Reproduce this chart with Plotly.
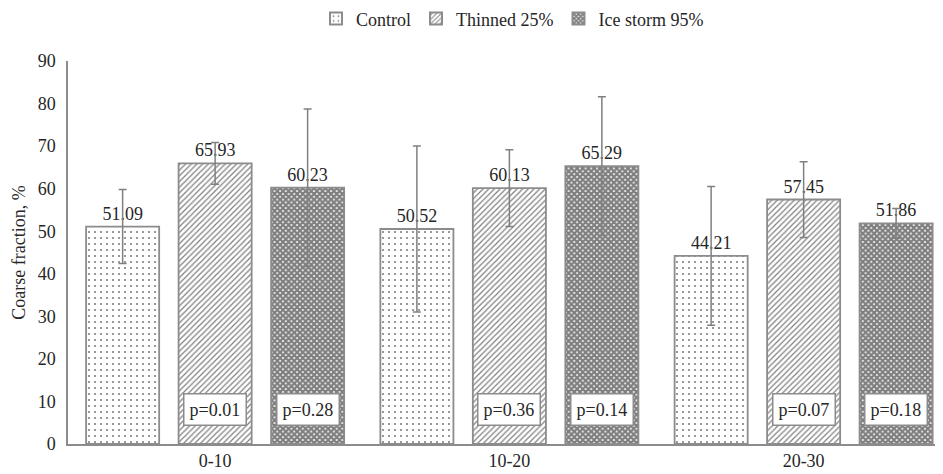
import plotly.graph_objects as go

categories = ["0-10", "10-20", "20-30"]
series_names = ["Control", "Thinned 25%", "Ice storm 95%"]
control = [51.09, 50.52, 44.21]
thinned = [65.93, 60.13, 57.45]
ice = [60.23, 65.29, 51.86]
control_err = [8.7, 19.5, 16.3]
thinned_err = [4.9, 9.0, 8.9]
ice_err = [18.5, 16.3, 3.5]
p_thinned = ["p=0.01", "p=0.36", "p=0.07"]
p_ice = ["p=0.28", "p=0.14", "p=0.18"]

FONT = "Liberation Serif"
TXT = "#262626"
GRAY = "#8c8c8c"

patterns = [
    dict(shape=".", fgcolor="black", bgcolor="white", size=6, solidity=0.1, fillmode="overlay"),
    dict(shape="/", fgcolor="black", bgcolor="white", size=4, solidity=0.3, fillmode="overlay"),
    dict(shape="x", fgcolor="black", bgcolor="white", size=4, solidity=0.8, fillmode="overlay"),
]
values = [control, thinned, ice]
errs = [control_err, thinned_err, ice_err]

fig = go.Figure()
for name, vals, err, pat in zip(series_names, values, errs, patterns):
    fig.add_trace(go.Bar(
        x=categories, y=vals, name=name,
        marker=dict(color="white", pattern=pat, line=dict(color=GRAY, width=1.8)),
        error_y=dict(type="data", array=err, visible=True, color="#808080", thickness=1.5, width=4),
        text=[f"{v:.2f}" for v in vals], textposition="outside", cliponaxis=False,
        textfont=dict(family=FONT, size=18, color=TXT),
    ))

slot = 92.5 / 294.25
annos = []
for i, cat in enumerate(categories):
    for k, plist in ((1, p_thinned), (2, p_ice)):
        annos.append(dict(
            x=i + (k - 1) * slot, y=8.0, xref="x", yref="y", text=plist[i],
            showarrow=False, font=dict(family=FONT, size=18, color=TXT),
            bgcolor="white", bordercolor=GRAY, borderwidth=1.5, borderpad=5,
        ))
fig.update_layout(annotations=annos)

fig.update_layout(
    width=935, height=466,
    margin=dict(l=60, r=0, t=53, b=30, autoexpand=False),
    paper_bgcolor="white", plot_bgcolor="white",
    barmode="group", bargap=0.057, bargroupgap=0.21,
    font=dict(family=FONT, size=18, color=TXT),
    showlegend=True,
    legend=dict(orientation="h", x=0.508, xanchor="center", y=1.11, yanchor="middle",
                font=dict(family=FONT, size=18, color=TXT), itemwidth=30, traceorder="normal",
                tracegroupgap=0, itemsizing="constant"),
    xaxis=dict(range=[-0.5, -0.5 + 875 / 294.25], showline=True, linecolor=GRAY, linewidth=1.5,
               showgrid=False, ticks="", ticklabelstandoff=0, tickfont=dict(size=18), automargin=False),
    yaxis=dict(range=[0, 90], dtick=10, showline=True, linecolor=GRAY, linewidth=1.5,
               showgrid=False, zeroline=False, ticks="", ticklabelstandoff=7, tickfont=dict(size=18),
               automargin=False,
               title=dict(text="Coarse fraction, %", font=dict(size=18), standoff=7)),
)

fig.write_html("out.html")
